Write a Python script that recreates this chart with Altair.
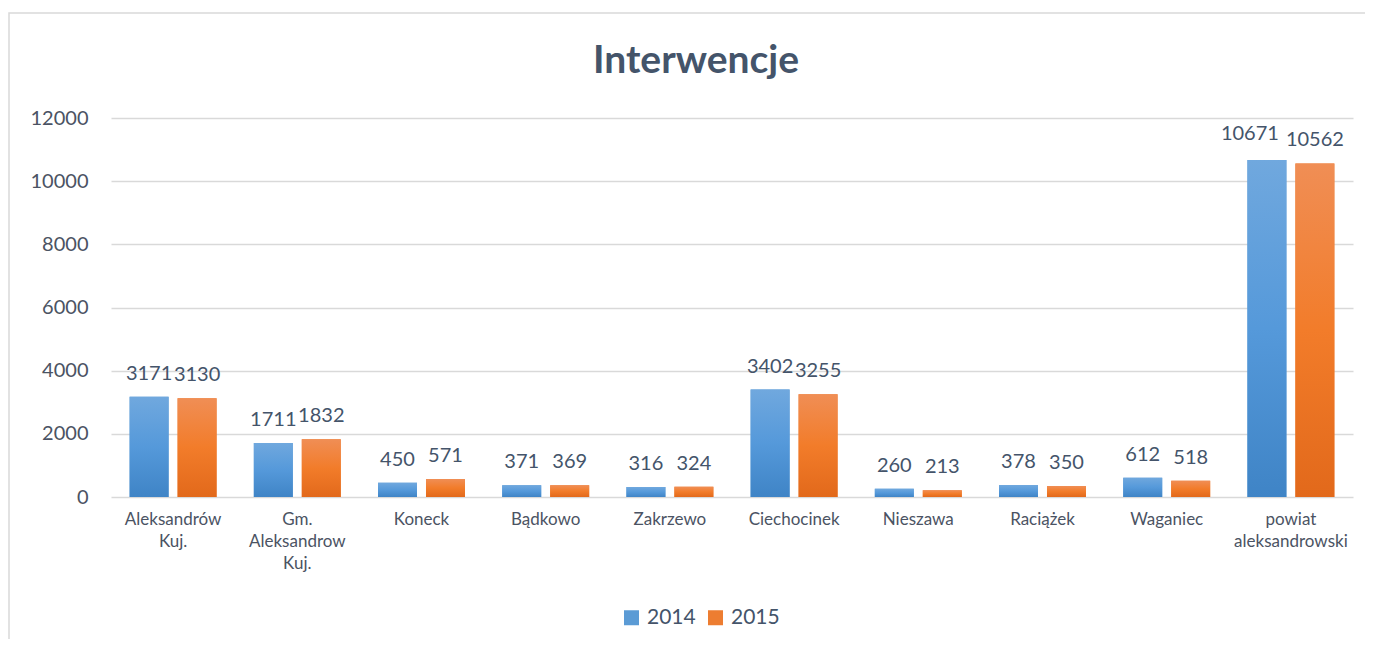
import altair as alt
import pandas as pd

categories = ["Aleksandrów Kuj.", "Gm. Aleksandrow Kuj.", "Koneck", "Bądkowo", "Zakrzewo",
              "Ciechocinek", "Nieszawa", "Raciążek", "Waganiec", "powiat aleksandrowski"]
years = ["2014", "2015"]
values_2014 = [3171, 1711, 450, 371, 316, 3402, 260, 378, 612, 10671]
values_2015 = [3130, 1832, 571, 369, 324, 3255, 213, 350, 518, 10562]
y_ticks = [0, 2000, 4000, 6000, 8000, 10000, 12000]

rows = []
for c, a, b in zip(categories, values_2014, values_2015):
    rows.append({"gmina": c, "rok": "2014", "wartosc": a})
    rows.append({"gmina": c, "rok": "2015", "wartosc": b})
df = pd.DataFrame(rows)

FONT = "Lato, sans-serif"
AXIS_COLOR = "#4B5363"
TEXT_COLOR = "#44546A"

grad_blue = alt.LinearGradient(
    gradient="linear", x1=0, y1=0, x2=0, y2=1,
    stops=[alt.GradientStop(color="#70A8DE", offset=0),
           alt.GradientStop(color="#5599DA", offset=0.5),
           alt.GradientStop(color="#3F84C6", offset=1)])
grad_orange = alt.LinearGradient(
    gradient="linear", x1=0, y1=0, x2=0, y2=1,
    stops=[alt.GradientStop(color="#F08E55", offset=0),
           alt.GradientStop(color="#F27C2A", offset=0.5),
           alt.GradientStop(color="#E2691B", offset=1)])

x_enc = alt.X(
    "gmina:N", sort=categories,
    scale=alt.Scale(paddingInner=0.3, paddingOuter=0.15),
    axis=alt.Axis(title=None, labelAngle=0, domain=False, ticks=False,
                  labelExpr="split(datum.label, ' ')",
                  labelFont=FONT, labelFontSize=17, labelColor=AXIS_COLOR,
                  labelPadding=14, labelLineHeight=22, labelBaseline="top"))
xo_enc = alt.XOffset("rok:N", sort=years,
                     scale=alt.Scale(paddingInner=0.1875, paddingOuter=0))
y_enc = alt.Y(
    "wartosc:Q", scale=alt.Scale(domain=[0, 12000], nice=False),
    axis=alt.Axis(title=None, values=y_ticks, format="d", domain=False, ticks=False,
                  labelFont=FONT, labelFontSize=20, labelColor=AXIS_COLOR,
                  labelPadding=23, gridColor="#D9D9D9", gridWidth=1.3))

base = alt.Chart(df).encode(x=x_enc, xOffset=xo_enc, y=y_enc)

legend_bars = base.mark_bar().encode(
    color=alt.Color("rok:N", sort=years,
                    scale=alt.Scale(domain=years, range=["#5B9BD5", "#ED7D31"]),
                    legend=alt.Legend(title=None, orient="none", direction="horizontal",
                                      legendX=510, legendY=489, padding=0,
                                      symbolType="square", symbolSize=225,
                                      symbolStrokeWidth=0, labelOffset=5,
                                      columnPadding=9,
                                      labelFont=FONT, labelFontSize=21,
                                      labelColor=TEXT_COLOR)))

bars_2014 = base.transform_filter("datum.rok == '2014'").mark_bar(color=grad_blue)
bars_2015 = base.transform_filter("datum.rok == '2015'").mark_bar(color=grad_orange)

# wide (5-digit) labels of the first series are nudged left so that they do not collide
labels_main = base.transform_filter(
    "!(datum.rok == '2014' && datum.wartosc >= 10000)"
).mark_text(baseline="alphabetic", dy=-17, font=FONT, fontSize=20,
            color=TEXT_COLOR).encode(text="wartosc:Q")
labels_wide = base.transform_filter(
    "datum.rok == '2014' && datum.wartosc >= 10000"
).mark_text(baseline="alphabetic", dy=-20, dx=-17, font=FONT, fontSize=20,
            color=TEXT_COLOR).encode(text="wartosc:Q")

frame = alt.Chart(pd.DataFrame({"k": [0]})).mark_rect(
    fill=None, stroke="#D9D9D9", strokeWidth=1.5).encode(
    x=alt.value(-102), x2=alt.value(1300), y=alt.value(-105), y2=alt.value(600))

chart = alt.layer(frame, legend_bars, bars_2014, bars_2015, labels_main, labels_wide).properties(
    width=1242, height=379,
    autosize=alt.AutoSizeParams(type="none"),
    padding={"left": 103, "top": 110, "right": 12, "bottom": 142},
    title=alt.Title("Interwencje", font=FONT, fontSize=39, fontWeight="bold",
                    color=TEXT_COLOR, anchor="middle", frame="group",
                    dx=-36, offset=-69),
).configure_view(stroke=None)

chart.save("out.html", embed_options={"renderer": "svg", "actions": False})
